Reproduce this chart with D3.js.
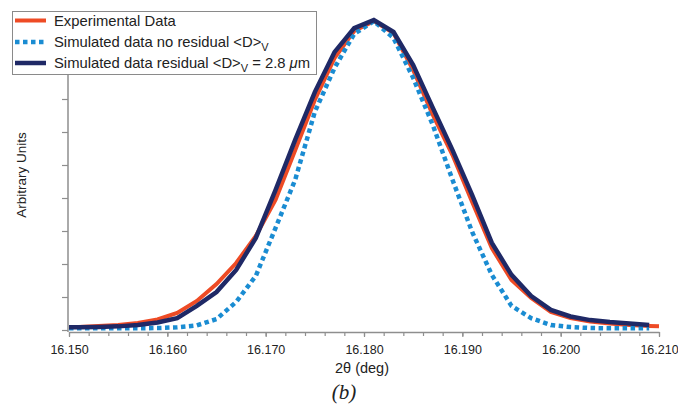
<!DOCTYPE html>
<html>
<head>
<meta charset="utf-8">
<script src="https://cdn.jsdelivr.net/npm/d3@7"></script>
<style>
  body { margin: 0; background: #fff; }
  svg { display: block; font-family: "Liberation Sans", Arial, Helvetica, sans-serif; }
</style>
</head>
<body>
<svg id="chart" width="678" height="404"></svg>
<script>
// 2-theta positions (deg)
const twoTheta = [16.150, 16.151, 16.153, 16.155, 16.157, 16.159, 16.161, 16.163, 16.165, 16.167,
    16.169, 16.171, 16.173, 16.175, 16.177, 16.179, 16.181, 16.183, 16.185, 16.187,
    16.189, 16.191, 16.193, 16.195, 16.197, 16.199, 16.201, 16.203, 16.205, 16.207,
    16.209, 16.210];

// intensities, arbitrary units
const experimental = [0.09, 0.09, 0.12, 0.15, 0.21, 0.32, 0.52, 0.88, 1.39, 2.03,
    2.85, 3.94, 5.45, 6.97, 8.24, 9.06, 9.36, 9.00, 7.88, 6.52,
    5.30, 3.88, 2.48, 1.52, 0.97, 0.55, 0.36, 0.26, 0.20, 0.15,
    0.12, 0.11];

const simNoResidual = [0.05, 0.05, 0.05, 0.05, 0.05, 0.06, 0.08, 0.14, 0.33, 0.85,
    1.64, 3.09, 4.55, 6.61, 7.94, 8.97, 9.36, 8.85, 7.64, 6.21,
    4.55, 2.97, 1.67, 0.73, 0.36, 0.15, 0.09, 0.06, 0.05, 0.05,
    0.05, null];

const simResidual = [0.08, 0.08, 0.09, 0.11, 0.15, 0.23, 0.36, 0.73, 1.15, 1.82,
    2.79, 4.24, 5.76, 7.21, 8.42, 9.15, 9.39, 9.03, 8.03, 6.73,
    5.45, 4.09, 2.64, 1.67, 1.03, 0.61, 0.41, 0.30, 0.24, 0.20,
    0.15, null];

const xMajorTicks = [16.150, 16.160, 16.170, 16.180, 16.190, 16.200, 16.210];
const yTicks = [0, 1, 2, 3, 4, 5, 6, 7, 8, 9];

const axisColor = "#8e8e8e";

let svg = d3.select("#chart");

let x = d3.scaleLinear().domain([16.150, 16.210]).range([69, 659]);
let y = d3.scaleLinear().domain([0, 10]).range([330, 0]);
const xAxisY = 332;

// x axis: minor ticks every 0.002, labelled ticks every 0.010
let xMinor = d3.range(0, 31).map(i => 16.150 + i * 0.002);
let gxMinor = svg.append("g")
    .attr("transform", "translate(0," + xAxisY + ")")
    .call(d3.axisBottom(x).tickValues(xMinor).tickSize(4).tickSizeOuter(0).tickFormat(""));
let gx = svg.append("g")
    .attr("transform", "translate(0," + xAxisY + ")")
    .call(d3.axisBottom(x).tickValues(xMajorTicks).tickSize(5).tickSizeOuter(0).tickFormat(d3.format(".3f")));
gxMinor.select(".domain").remove();
gx.select(".domain").attr("stroke", axisColor).attr("stroke-width", 1.5);
svg.selectAll(".tick line").attr("stroke", axisColor).attr("stroke-width", 1.2);
gx.selectAll(".tick text")
    .attr("fill", "#222")
    .attr("y", 11)
    .attr("dy", "0.9em")
    .style("font-size", "12.5px");

// y axis, no labels
let gy = svg.append("g")
    .attr("transform", "translate(68,0)")
    .call(d3.axisLeft(y).tickValues(yTicks).tickSize(6).tickSizeOuter(0).tickFormat(""));
gy.select(".domain").remove();
gy.selectAll(".tick line").attr("stroke", axisColor).attr("stroke-width", 1.2);
gy.append("line")
    .attr("y1", xAxisY).attr("y2", y(9.5))
    .attr("stroke", axisColor).attr("stroke-width", 1.5);

// axis titles
svg.append("text")
    .attr("x", 362).attr("y", 373)
    .attr("text-anchor", "middle")
    .attr("fill", "#222")
    .style("font-size", "14.5px")
    .text("2θ (deg)");

svg.append("text")
    .attr("x", 344).attr("y", 399)
    .attr("text-anchor", "middle")
    .attr("fill", "#222")
    .style("font-family", "'Liberation Serif', 'Times New Roman', serif")
    .style("font-style", "italic")
    .style("font-size", "21px")
    .text("(b)");

svg.append("text")
    .attr("transform", "translate(26,175) rotate(-90)")
    .attr("text-anchor", "middle")
    .attr("fill", "#222")
    .style("font-size", "13.5px")
    .text("Arbitrary Units");

// curves
const series = [
    {values: experimental, color: "#ee4b25", width: 4, dash: null},
    {values: simNoResidual, color: "#1a8cd2", width: 4.5, dash: "4.5 3.5"},
    {values: simResidual, color: "#1f2966", width: 4.5, dash: null}
];

series.forEach(s => {
    let line = d3.line()
        .defined((d, i) => s.values[i] !== null)
        .x(d => x(d))
        .y((d, i) => y(s.values[i]));
    svg.append("path")
        .datum(twoTheta)
        .attr("d", line)
        .attr("fill", "none")
        .attr("stroke", s.color)
        .attr("stroke-width", s.width)
        .attr("stroke-linejoin", "miter")
        .attr("stroke-dasharray", s.dash);
});

// legend
let legend = svg.append("g");
legend.append("rect")
    .attr("x", 12.5).attr("y", 11.5)
    .attr("width", 304).attr("height", 63)
    .attr("fill", "#fff")
    .attr("stroke", "#8a8a8a")
    .attr("stroke-width", 1);

const legendRows = [20.5, 42, 63];
series.forEach((s, i) => {
    legend.append("line")
        .attr("x1", 15).attr("x2", 46)
        .attr("y1", legendRows[i]).attr("y2", legendRows[i])
        .attr("stroke", s.color)
        .attr("stroke-width", s.width)
        .attr("stroke-dasharray", s.dash);
});

function legendText(i) {
    return legend.append("text")
        .attr("x", 54).attr("y", legendRows[i] + 5)
        .attr("fill", "#222")
        .style("font-size", "14.8px");
}

legendText(0).text("Experimental Data");

let t1 = legendText(1);
t1.append("tspan").text("Simulated data no residual <D>");
t1.append("tspan").attr("dy", 4).style("font-size", "11px").text("V");

let t2 = legendText(2);
t2.append("tspan").text("Simulated data residual <D>");
t2.append("tspan").attr("dy", 4).style("font-size", "11px").text("V");
t2.append("tspan").attr("dy", -4).text(" = 2.8 ");
t2.append("tspan").style("font-style", "italic").text("μ");
t2.append("tspan").text("m");
</script>
</body>
</html>
